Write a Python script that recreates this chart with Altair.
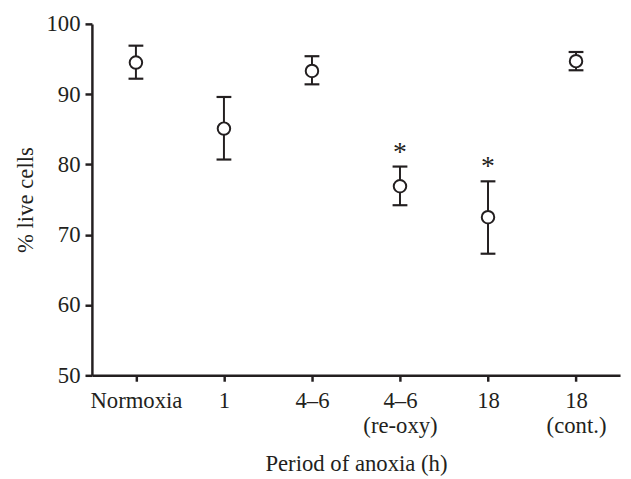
import altair as alt
import pandas as pd

categories = ["Normoxia", "1", "4–6", "4–6|(re-oxy)", "18", "18|(cont.)"]
means = [94.5, 85.1, 93.3, 76.9, 72.5, 94.7]
lower = [92.2, 80.7, 91.4, 74.2, 67.3, 93.4]
upper = [96.9, 89.6, 95.4, 79.7, 77.6, 96.0]
stars = ["", "", "", "*", "*", ""]
y_ticks = [50, 60, 70, 80, 90, 100]

ink = "#231f20"
font = "Liberation Serif, Times New Roman, Times, Tinos, serif"

df = pd.DataFrame({"cat": categories, "mean": means, "lower": lower,
                   "upper": upper, "star": stars})

x_enc = alt.X(
    "cat:N", sort=categories,
    scale=alt.Scale(type="point", padding=0.5),
    axis=alt.Axis(
        title="Period of anoxia (h)",
        labelExpr="split(datum.label, '|')",
        labelAngle=0, labelPadding=9, labelLineHeight=25, tickSize=6,
        titleY=96, titleBaseline="alphabetic",
    ),
)
y_scale = alt.Scale(domain=[50, 100], nice=False, zero=False)

base = alt.Chart(df).encode(x=x_enc)

rule = base.mark_rule(color=ink, strokeWidth=2).encode(
    y=alt.Y("lower:Q", scale=y_scale,
            axis=alt.Axis(title="% live cells", values=y_ticks,
                          labelPadding=5, titleX=-60, titleY=178,
                          titleBaseline="alphabetic")),
    y2="upper:Q",
)
cap_lo = base.mark_tick(color=ink, size=15, thickness=2.2, opacity=1).encode(
    y=alt.Y("lower:Q", scale=y_scale))
cap_hi = base.mark_tick(color=ink, size=15, thickness=2.2, opacity=1).encode(
    y=alt.Y("upper:Q", scale=y_scale))
pts = base.mark_point(shape="circle", size=160, fill="white", stroke=ink,
                      strokeWidth=2, opacity=1, fillOpacity=1).encode(
    y=alt.Y("mean:Q", scale=y_scale))
txt = base.mark_text(font=font, fontSize=28, color=ink, dy=-14,
                     baseline="middle").encode(
    y=alt.Y("upper:Q", scale=y_scale), text="star:N")

chart = alt.layer(rule, cap_lo, cap_hi, pts, txt).properties(
    width=535, height=356,
    autosize=alt.AutoSizeParams(type="none"),
    padding={"left": 85, "top": 13, "right": 3, "bottom": 106},
).configure_view(stroke=None).configure_axis(
    grid=False,
    domainColor=ink, domainWidth=2.5,
    tickColor=ink, tickWidth=2.5, tickSize=7,
    labelFont=font, labelFontSize=23, labelColor=ink,
    titleFont=font, titleFontSize=23, titleFontWeight="normal", titleColor=ink,
)

chart.save("out.html", embed_options={"renderer": "svg", "actions": False})
